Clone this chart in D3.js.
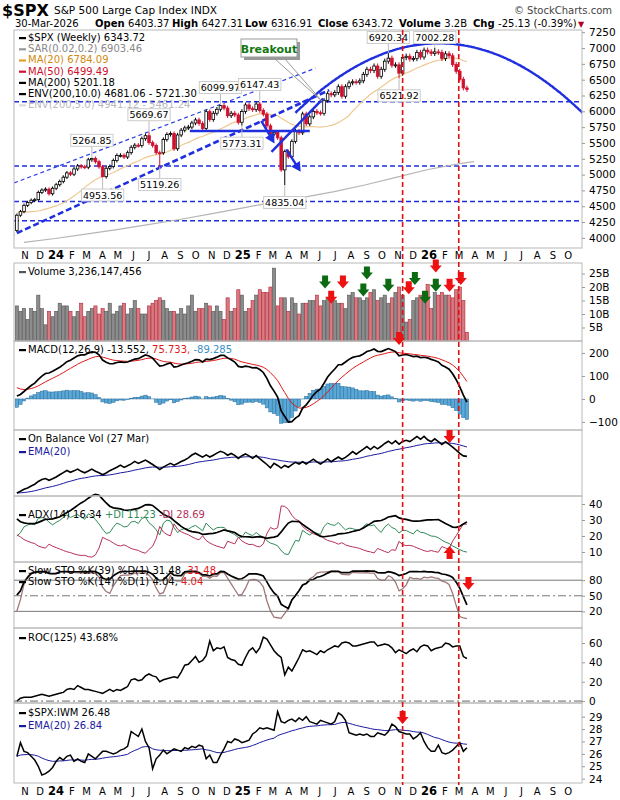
<!DOCTYPE html>
<html><head><meta charset="utf-8">
<script src="https://cdn.jsdelivr.net/npm/d3@7"></script>
<style>body{margin:0;background:#fff}text{font-family:"DejaVu Sans",Verdana,sans-serif}</style>
</head><body><div id="chart"></div>
<script>
// weekly closes, weeks start Mon 2023-01-02
const closes2023 = [3895,3999,3972,4070,4136,4090,4079,3970,4045,3861,3917,3971,4109,4105,4137,4133,4169,4136,4124,4191,4205,4282,4299,4409,4348,4450,4398,4505,4536,4582,4478,4464,4370,4406,4515,4457,4450,4320,4288,4308,4327,4224,4117,4358,4415,4514,4559,4595,4604,4719,4755,4770];
const closes2024 = [4697,4784,4840,4891,4959,5027,5006,5089,5137,5124,5117,5234,5254,5204,5123,4967,5100,5128,5223,5303,5305,5278,5347,5432,5465,5460,5567,5615,5505,5459,5346,5344,5554,5635,5648,5408,5626,5702,5738,5751,5815,5864,5808,5729,5995,5870,5969,6032,6090,6051,5930,5970];
const closes2025 = [5942,5827,5997,6101,6041,6026,6115,6013,5955,5770,5639,5668,5581,5074,5363,5283,5525,5687,5660,5958,5802,5912,6000,5977,5968,6173,6279,6260,6297,6389,6238,6389,6450,6467,6460,6482,6584,6664,6644,6716,6553,6664,6792,6840,6728,6734,6603,6849,6870,6827,6834,6930];
const closes2026 = [6858,6966,6940,6915,6939,6932,6836,6909,6878,6740,6632,6506,6369,6344];
const firstOpen = 3840;
const firstVisible = 43; // week of 2023-10-30

// visible-week series
const volumeB = [13,11,12,8,12,11,17,12,6,11, 9,11,14,13,13,11,9,11,14,9, 11,12,13,10,12,11,14,10,11,13, 14,10,12,15,12,10,10,13,14,15, 16,15,12,11,11,10,12,10,13,17, 11,12,12,14,13,11,13,11,8,16, 11,12,19,17,11,12,15,17,19,18, 18,20,27,13,16,16,11,16,14,10, 14,14,15,15,17,13,15,16,17,15, 14,14,12,17,18,16,16,15,16,18, 19,15,16,17,14,16,18,20,17,7, 8,15,16,17,18,21,12,18,17,18, 17,17,16,19,20,15,3.2];
const roc125 = [0,3,4,4,4,5,6,7,6,5, 6,7,8,9,12,13,12,16,14,12, 12,11,10,9,8,10,12,10,12,11, 13,15,22,23,21,22,26,28,26,25, 20,22,23,24,25,24,30,37,38,42, 46,40,42,47,62,52,55,54,56,45, 43,42,38,37,45,52,55,50,55,66, 64,58,52,48,45,27,35,31,38,45, 53,51,52,50,48,52,50,53,55,57, 56,60,61,60,57,57,58,59,60,61, 61,57,58,59,58,55,50,53,51,49, 52,54,51,56,58,57,52,54,55,56, 60,59,56,57,57,46,44];
const spxIwm = [25.8,26.9,26.2,26.1,25.8,25.5,25.0,24.3,24.4,24.6, 24.9,25.4,25.7,25.5,25.8,25.9,25.4,25.6,25.4,25.3, 26.0,25.8,25.6,25.9,26.2,26.2,26.1,26.0,26.1,26.3, 26.4,26.6,27.8,27.6,27.4,28.0,27.0,26.5,24.8,25.6, 25.9,26.3,26.0,26.2,26.4,26.3,26.2,26.5,26.4,26.6, 26.5,26.7,26.6,25.6,25.9,25.3,25.3,25.9,26.4,27.0, 26.9,27.2,27.1,26.9,27.0,27.1,27.6,27.8,28.1,28.0, 28.1,28.0,27.9,29.4,28.6,28.5,28.7,28.8,28.6,28.9, 28.7,29.0,28.6,28.5,28.4,28.7,28.6,28.5,28.4,28.6, 29.3,29.1,28.7,27.7,27.6,27.5,27.6,27.5,27.6,27.4, 27.4,27.7,27.6,27.5,27.8,28.4,28.2,27.8,27.7,27.6, 27.6,27.2,27.4,27.7,27.0,26.5,26.2,26.2,26.7,26.1, 26.0,26.1,26.3,26.6,26.9,26.2,26.5];
// MA(200)
const ma200Months = ["2023-11","2024-01","2024-03","2024-05","2024-07","2024-09","2024-11","2025-01","2025-03","2025-05","2025-07","2025-09","2025-11","2026-01","2026-03","2026-04"];
const ma200Vals = [3930,3990,4060,4130,4210,4290,4380,4470,4560,4640,4730,4840,4960,5080,5170,5205];

// labelled extremes: week monday, value, high/low
const extremes = [["2024-03-25",5264.85,"H"],["2024-04-15",4953.56,"L"],["2024-07-15",5669.67,"H"],["2024-08-05",5119.26,"L"],["2024-12-02",6099.97,"H"],["2025-01-13",5773.31,"L"],["2025-02-17",6147.43,"H"],["2025-04-07",4835.04,"L"],["2025-10-27",6920.34,"H"],["2025-11-17",6521.92,"L"],["2026-01-26",7002.28,"H"]];
const hLines = [6150,5135,4575,4270];
const redVLines = ["2025-11-26","2026-03-16"];
const volArrows = [[86.4,21.7,"g"],[91.4,21.7,"r"],[88,16,"r"],[98,25,"g"],[97,18.7,"g"],[104,20.5,"g"],[109.8,19.5,"r"],[111.5,23,"g"],[114.3,16,"g"],[117.3,27.6,"r"],[117.3,20.5,"g"],[121.2,20.5,"r"],[124.3,23,"r"]];
// header quote line: label, value, x position
const quote = [["", "30-Mar-2026", 15], ["Open", "6403.37", 95], ["High", "6427.31", 172], ["Low", "6316.91", 245], ["Close", "6343.72", 318], ["Volume", "3.2B", 399], ["Chg", "-25.13 (-0.39%)", 473]];

const W = 620, H = 800, L = 14, R = 582;
const closes = [...closes2023, ...closes2024, ...closes2025, ...closes2026];
const N = closes.length;
const start = new Date(2023, 0, 2);
const weekDate = g => d3.timeDay.offset(start, 7 * g + 2);
const gOf = s => Math.round((new Date(s + "T00:00") - start) / 6048e5);
const opens = closes.map((c, i) => i ? closes[i - 1] : firstOpen);
const highs = closes.map((c, i) => Math.max(c, opens[i]) * 1.006);
const lows = closes.map((c, i) => Math.min(c, opens[i]) * 0.994);
extremes.forEach(e => { const g = gOf(e[0]); if (e[2] == "H") highs[g] = e[1]; else lows[g] = e[1]; });

const x = d3.scaleTime().domain([new Date(2024,0,1), new Date(2026,0,1)]).range([48, 421]);
const xg = g => x(weekDate(g));
const xk = k => xg(k + firstVisible);
const vis = d3.range(firstVisible, N);

// indicators
function ema(a, n) { const k = 2 / (n + 1); let o = []; a.forEach((v, i) => o.push(i ? v * k + o[i - 1] * (1 - k) : v)); return o; }
function sma(a, n) { return a.map((v, i) => i < n - 1 ? null : d3.mean(a.slice(i - n + 1, i + 1))); }
const ma20 = sma(closes, 20), ma50 = sma(closes, 50);
const e12 = ema(closes, 12), e26 = ema(closes, 26);
const macd = closes.map((c, i) => e12[i] - e26[i]);
const sig = ema(macd, 9);
function stoch(n) {
  const f = closes.map((c, i) => { const a = Math.max(0, i - n + 1); const hh = d3.max(highs.slice(a, i + 1)), ll = d3.min(lows.slice(a, i + 1)); return 100 * (c - ll) / (hh - ll); });
  return f.map((v, i) => d3.mean(f.slice(Math.max(0, i - 2), i + 1)));
}
const sto39 = stoch(39), sto14 = stoch(14);
// ADX(14)
const tr = [], pdm = [], ndm = [];
closes.forEach((c, i) => {
  if (!i) { tr.push(highs[0] - lows[0]); pdm.push(0); ndm.push(0); return; }
  tr.push(Math.max(highs[i] - lows[i], Math.abs(highs[i] - closes[i - 1]), Math.abs(lows[i] - closes[i - 1])));
  const up = highs[i] - highs[i - 1], dn = lows[i - 1] - lows[i];
  pdm.push(up > dn && up > 0 ? up : 0); ndm.push(dn > up && dn > 0 ? dn : 0);
});
function wilder(a, n) { let o = []; a.forEach((v, i) => o.push(i ? o[i - 1] - o[i - 1] / n + v : v * n)); return o; }
const atr = wilder(tr, 14), spd = wilder(pdm, 14), snd = wilder(ndm, 14);
const pdi = atr.map((t, i) => 100 * spd[i] / t), ndi = atr.map((t, i) => 100 * snd[i] / t);
const dx = pdi.map((p, i) => 100 * Math.abs(p - ndi[i]) / ((p + ndi[i]) || 1));
const adxW = wilder(dx, 14).map(v => v / 14);
// OBV on visible weeks
const obv = []; vis.forEach((g, k) => obv.push(k ? obv[k - 1] + Math.sign(closes[g] - closes[g - 1]) * volumeB[k] : 0));
const obvE = ema(obv, 20);
const ratioE = ema(spxIwm, 20);

const svg = d3.select("#chart").append("svg").attr("width", W).attr("height", H);
svg.append("defs").append("clipPath").attr("id", "clip").append("rect").attr("x", L).attr("y", 0).attr("width", R - L).attr("height", H);
const clip = svg.append("g").attr("clip-path", "url(#clip)");

// header
svg.append("text").attr("x", 2).attr("y", 16).attr("font-size", 16).attr("font-weight", "bold").text("$SPX");
svg.append("text").attr("x", 54).attr("y", 14).attr("font-size", 10.5).text("S&P 500 Large Cap Index  INDX");
svg.append("text").attr("x", 612).attr("y", 14).attr("font-size", 10).attr("text-anchor", "end").attr("fill", "#444").text("© StockCharts.com");
quote.forEach(q => {
  const t = svg.append("text").attr("x", q[2]).attr("y", 27).attr("font-size", 10);
  if (q[0]) t.append("tspan").attr("font-weight", "bold").text(q[0] + " ");
  t.append("tspan").text(q[1]);
});
svg.append("text").attr("x", 578).attr("y", 27).attr("font-size", 8).attr("fill", "#b00020").text("▼");

const panels = [[30, 248], [263, 341], [341, 430], [430, 496], [496, 562], [562, 628], [628, 703], [703, 783]];
panels.forEach(p => svg.append("rect").attr("x", L).attr("y", p[0]).attr("width", R - L).attr("height", p[1] - p[0]).attr("fill", "none").attr("stroke", "#b8b8b8"));

function yAxis(sc, ticks, fmt) {
  const g = svg.append("g").attr("transform", `translate(${R},0)`).call(d3.axisRight(sc).tickValues(ticks).tickSize(3).tickPadding(4).tickFormat(fmt || d3.format("d")));
  g.select(".domain").remove(); g.selectAll("text").attr("font-size", 10.5).attr("font-family", "DejaVu Sans");
  g.selectAll("line").attr("stroke", "#999");
}
function monthAxis(y) {
  const months = d3.timeMonth.range(new Date(2023, 10, 1), new Date(2026, 10, 1));
  months.forEach(m => {
    const yr = m.getMonth() == 0;
    svg.append("text").attr("x", x(m) + 8).attr("y", y).attr("font-size", yr ? 11.5 : 10).attr("font-weight", yr ? "bold" : null)
      .attr("text-anchor", "middle").text(yr ? String(m.getFullYear()).slice(2) : "JFMAMJJASOND"[m.getMonth()]);
  });
}
const line = (xs, ys) => d3.line().defined(d => d != null && !isNaN(d[1])).x(d => d[0]).y(d => ys(d[1]));
function legend(x0, y0, parts, mark) {
  if (mark) svg.append("rect").attr("x", x0).attr("y", y0 - 4).attr("width", 7).attr("height", 2.2).attr("fill", mark);
  const t = svg.append("text").attr("x", x0 + (mark ? 9 : 0)).attr("y", y0).attr("font-size", 10);
  parts.forEach(p => t.append("tspan").attr("fill", p[1] || "#000").text(p[0]));
}
function downArrow(g, cx, cy, col, up) {
  const s = up ? -1 : 1;
  g.append("path").attr("d", `M${cx - 3},${cy - 7 * s} L${cx + 3},${cy - 7 * s} L${cx + 3},${cy - 1 * s} L${cx + 6},${cy - 1 * s} L${cx},${cy + 6 * s} L${cx - 6},${cy - 1 * s} L${cx - 3},${cy - 1 * s}Z`).attr("fill", col);
}

// ---- main panel
const yP = d3.scaleLinear().domain([3840, 7285]).range([248, 30]);
yAxis(yP, d3.range(4000, 7251, 250));
hLines.forEach(v => clip.append("line").attr("x1", L).attr("x2", R).attr("y1", yP(v)).attr("y2", yP(v)).attr("stroke", "#1f2fe0").attr("stroke-width", 1.6).attr("stroke-dasharray", "5,3"));
clip.append("path").datum(ma200Months.map((m, i) => [x(new Date(m + "-15T00:00")), ma200Vals[i]])).attr("d", line(x, yP)).attr("fill", "none").attr("stroke", "#b5b5b5").attr("stroke-width", 1.2);
clip.append("path").datum(vis.map(g => [xg(g), ma50[g]])).attr("d", line(x, yP)).attr("fill", "none").attr("stroke", "#e8b4b8").attr("stroke-width", 1.2);
clip.append("path").datum(vis.map(g => [xg(g), ma20[g]])).attr("d", line(x, yP)).attr("fill", "none").attr("stroke", "#efc890").attr("stroke-width", 1.2);
// trend channel
const trendThin = [[-4.4, 4789], [83.6, 6681]], trendThick = [[-2.2, 4016], [87.5, 6334]];
clip.append("path").datum(trendThin.map(d => [xk(d[0]), d[1]])).attr("d", line(x, yP)).attr("stroke", "#2a3ee8").attr("stroke-width", 1.2).attr("stroke-dasharray", "4,3");
clip.append("path").datum(trendThick.map(d => [xk(d[0]), d[1]])).attr("d", line(x, yP)).attr("stroke", "#1f2fe0").attr("stroke-width", 2.6).attr("stroke-dasharray", "6,3");
// candles
vis.forEach(g => {
  const cx = xg(g), up = closes[g] >= opens[g], col = up ? "#000" : "#d0102e";
  clip.append("line").attr("x1", cx).attr("x2", cx).attr("y1", yP(highs[g])).attr("y2", yP(lows[g])).attr("stroke", col).attr("stroke-width", 1);
  const t = yP(Math.max(opens[g], closes[g])), b = yP(Math.min(opens[g], closes[g]));
  clip.append("rect").attr("x", cx - 1.3).attr("width", 2.6).attr("y", t).attr("height", Math.max(1, b - t)).attr("fill", up ? "#fff" : "#d0102e").attr("stroke", col).attr("stroke-width", 0.8);
});
// support line + arrows
const supp = [[48.5, 5690], [82, 5690]];
clip.append("path").datum(supp.map(d => [xk(d[0]), d[1]])).attr("d", line(x, yP)).attr("stroke", "#1f2fe0").attr("stroke-width", 2.4);
const riseLine = [[71.3, 5360], [85.8, 6200]];
clip.append("path").datum(riseLine.map(d => [xk(d[0]), d[1]])).attr("d", line(x, yP)).attr("stroke", "#1f2fe0").attr("stroke-width", 2.4);
[[[68.5, 5850], [71.5, 5560]], [[75.5, 5400], [78.8, 5110]]].forEach(a => {
  const x1 = xk(a[0][0]), y1 = yP(a[0][1]), x2 = xk(a[1][0]), y2 = yP(a[1][1]);
  const ang = Math.atan2(y2 - y1, x2 - x1);
  clip.append("line").attr("x1", x1).attr("y1", y1).attr("x2", x2).attr("y2", y2).attr("stroke", "#1f2fe0").attr("stroke-width", 2.4);
  clip.append("path").attr("d", `M${x2 + 5 * Math.cos(ang)},${y2 + 5 * Math.sin(ang)} L${x2 + 7 * Math.cos(ang + 2.3)},${y2 + 7 * Math.sin(ang + 2.3)} L${x2 + 7 * Math.cos(ang - 2.3)},${y2 + 7 * Math.sin(ang - 2.3)}Z`).attr("fill", "#1f2fe0");
});
// arc
const arcTop = [118.2, 7075], arcA = 0.68;
clip.append("path").datum(d3.range(78, 170, 0.5).map(k => [xk(k), arcTop[1] - arcA * (k - arcTop[0]) ** 2])).attr("d", line(x, yP)).attr("fill", "none").attr("stroke", "#1f2fe0").attr("stroke-width", 2.4);
// legend (under labels)
const lg = [[[["$SPX (Weekly) 6343.72"]], "#000"], [[["SAR(0.02,0.2) 6903.46", "#888"]], "#999"], [[["MA(20) 6784.09", "#d08a10"]], "#e0a030"], [[["MA(50) 6499.49", "#d0102e"]], "#d0102e"], [[["MA(200) 5201.18"]], "#000"], [[["ENV(200,10.0) 4681.06 - 5721.30"]], "#000"], [[["ENV(200,5.0) 4941.12 - 5461.24", "#bbb"]], "#ddd"]];
lg.forEach((d, i) => legend(19, 41 + i * 11.2, d[0], d[1]));
// extreme labels
extremes.forEach(e => {
  const g = gOf(e[0]), cx = xg(g), hi = e[2] == "H";
  const yv = yP(e[1]), ly = hi ? Math.max(yv - 12, 43) : yv + 12;
  svg.append("line").attr("x1", cx).attr("x2", cx).attr("y1", yv).attr("y2", ly).attr("stroke", "#bbb");
  const t = svg.append("text").attr("x", cx).attr("y", ly + (hi ? -2 : 9)).attr("font-size", 9.5).attr("text-anchor", "middle").text(e[1].toFixed(2));
  const bb = t.node().getBBox();
  svg.insert("rect", () => t.node()).attr("x", bb.x - 1.5).attr("y", bb.y - 0.5).attr("width", bb.width + 3).attr("height", bb.height + 1).attr("fill", "#fff").attr("stroke", "#ccc");
});
// Breakout callout
svg.append("line").attr("x1", 285).attr("y1", 59).attr("x2", xk(85.5)).attr("y2", yP(6160)).attr("stroke", "#999");
svg.append("line").attr("x1", 275).attr("y1", 59).attr("x2", xk(85.5)).attr("y2", yP(6160)).attr("stroke", "#999");
svg.append("rect").attr("x", 244).attr("y", 42).attr("width", 56).attr("height", 18).attr("fill", "#999");
svg.append("rect").attr("x", 241).attr("y", 39).attr("width", 56).attr("height", 18).attr("fill", "#fff").attr("stroke", "#999");
svg.append("text").attr("x", 269).attr("y", 52.5).attr("font-size", 11).attr("font-weight", "bold").attr("fill", "#117711").attr("text-anchor", "middle").text("Breakout");
monthAxis(259);

// ---- volume
const yV = d3.scaleLinear().domain([0, 28.9]).range([341, 263]);
yAxis(yV, [5, 10, 15, 20, 25], d => d + "B");
vis.forEach((g, k) => {
  const up = closes[g] >= opens[g];
  clip.append("rect").attr("x", xk(k) - 1.6).attr("width", 3.2).attr("y", yV(volumeB[k])).attr("height", yV(0) - yV(volumeB[k]))
    .attr("fill", up ? "#8c8c8c" : "#d97a82").attr("stroke", up ? "#555" : "#b02838").attr("stroke-width", 0.6);
});
legend(19, 275, [["Volume 3,236,147,456"]], "#555");
volArrows.forEach(a => downArrow(svg, xk(a[0]), yV(a[1]), a[2] == "g" ? "#0c6a12" : "#ee1111"));

// ---- MACD
const yM = d3.scaleLinear().domain([-135, 252]).range([430, 341]);
yAxis(yM, [-100, 0, 100, 200]);
vis.forEach((g, k) => {
  const h = macd[g] - sig[g];
  clip.append("rect").attr("x", xk(k) - 1.7).attr("width", 3.4).attr("y", yM(Math.max(0, h))).attr("height", Math.abs(yM(h) - yM(0)))
    .attr("fill", "#58a8d8").attr("stroke", "#2a6a98").attr("stroke-width", 0.5);
});
clip.append("path").datum(vis.map((g, k) => [xk(k), sig[g]])).attr("d", line(x, yM)).attr("fill", "none").attr("stroke", "#e01818").attr("stroke-width", 1);
clip.append("path").datum(vis.map((g, k) => [xk(k), macd[g]])).attr("d", line(x, yM)).attr("fill", "none").attr("stroke", "#000").attr("stroke-width", 1.7);
legend(19, 353, [["MACD(12,26,9) -13.552, "], ["75.733, ", "#e01818"], ["-89.285", "#3a90c8"]], "#000");
downArrow(svg, xk(107), 339, "#ee1111");

// ---- OBV
const yO = d3.scaleLinear().domain(d3.extent(obv.concat(obvE))).range([493, 436]).nice();
clip.append("path").datum(vis.map((g, k) => [xk(k), obvE[k]])).attr("d", line(x, yO)).attr("fill", "none").attr("stroke", "#1a1aa0").attr("stroke-width", 1);
clip.append("path").datum(vis.map((g, k) => [xk(k), obv[k]])).attr("d", line(x, yO)).attr("fill", "none").attr("stroke", "#000").attr("stroke-width", 1.6);
legend(19, 442, [["On Balance Vol (27 Mar)"]], "#000");
legend(19, 455, [["EMA(20)", "#1a1aa0"]], "#1a1aa0");
downArrow(svg, xk(121.2), 437, "#ee1111");

// ---- ADX
const yA = d3.scaleLinear().domain([3.75, 45]).range([562, 496]);
yAxis(yA, [10, 20, 30, 40]);
[[pdi, "#2e8b57", 1], [ndi, "#b8305a", 1], [adxW, "#000", 1.7]].forEach(s =>
  clip.append("path").datum(vis.map((g, k) => [xk(k), s[0][g]])).attr("d", line(x, yA)).attr("fill", "none").attr("stroke", s[1]).attr("stroke-width", s[2]));
legend(19, 518, [["ADX(14) 16.34 "], ["+DI 11.23 ", "#2e8b57"], ["-DI 28.69", "#b8305a"]], "#000");
downArrow(svg, xk(121.2), yA(10), "#ee1111", true);

// ---- STO
const yS = d3.scaleLinear().domain([-12, 115]).range([628, 562]);
yAxis(yS, [20, 50, 80]);
[20, 80].forEach(v => svg.append("line").attr("x1", L).attr("x2", R).attr("y1", yS(v)).attr("y2", yS(v)).attr("stroke", "#777"));
svg.append("line").attr("x1", L).attr("x2", R).attr("y1", yS(50)).attr("y2", yS(50)).attr("stroke", "#777").attr("stroke-dasharray", "8,3,2,3");
clip.append("path").datum(vis.map((g, k) => [xk(k), sto14[g]])).attr("d", line(x, yS)).attr("fill", "none").attr("stroke", "#a07878").attr("stroke-width", 1.3);
clip.append("path").datum(vis.map((g, k) => [xk(k), sto39[g]])).attr("d", line(x, yS)).attr("fill", "none").attr("stroke", "#000").attr("stroke-width", 1.7);
legend(19, 574, [["Slow STO %K(39) %D(1) 31.48, "], ["31.48", "#e01818"]], "#000");
legend(19, 585, [["Slow STO %K(14) %D(1) 4.04, "], ["4.04", "#e01818"]], "#000");
downArrow(svg, xk(126.5), 584, "#ee1111");

// ---- ROC
const yR = d3.scaleLinear().domain([-2, 75.5]).range([703, 628]);
yAxis(yR, [0, 20, 40, 60]);
svg.append("line").attr("x1", L).attr("x2", R).attr("y1", yR(0)).attr("y2", yR(0)).attr("stroke", "#666").attr("stroke-dasharray", "8,3,2,3");
clip.append("path").datum(roc125.map((v, k) => [xk(k), v])).attr("d", line(x, yR)).attr("fill", "none").attr("stroke", "#000").attr("stroke-width", 1.5);
legend(19, 641, [["ROC(125) 43.68%"]], "#000");

// ---- SPX:IWM
const yQ = d3.scaleLinear().domain([23.65, 30.1]).range([783, 703]);
yAxis(yQ, [24, 25, 26, 27, 28, 29]);
clip.append("path").datum(ratioE.map((v, k) => [xk(k), v])).attr("d", line(x, yQ)).attr("fill", "none").attr("stroke", "#1a1aa0").attr("stroke-width", 1);
clip.append("path").datum(spxIwm.map((v, k) => [xk(k), v])).attr("d", line(x, yQ)).attr("fill", "none").attr("stroke", "#000").attr("stroke-width", 1.5);
legend(19, 716, [["$SPX:IWM 26.48"]], "#000");
legend(19, 729, [["EMA(20) 26.84", "#1a1aa0"]], "#1a1aa0");
downArrow(svg, xk(108), 718, "#ee1111");
monthAxis(795);

// red dashed verticals
redVLines.forEach(d => svg.append("line").attr("x1", x(new Date(d + "T00:00"))).attr("x2", x(new Date(d + "T00:00"))).attr("y1", 30).attr("y2", 785)
  .attr("stroke", "#e01010").attr("stroke-width", 1.6).attr("stroke-dasharray", "5,3"));
</script></body></html>
